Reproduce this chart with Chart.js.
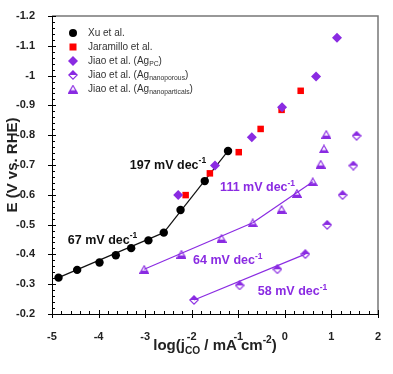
<!DOCTYPE html>
<html>
<head>
<meta charset="utf-8">
<script src="https://cdn.jsdelivr.net/npm/chart.js@4.4.1/dist/chart.umd.min.js"></script>
<style>
  html, body { margin: 0; padding: 0; background: #fff; }
  canvas { display: block; }
</style>
</head>
<body>
<canvas id="tafel" width="393" height="374"></canvas>
<script>
// data: log(jCO) and potential E (V vs RHE)
const xuX = [-4.86, -4.46, -3.98, -3.63, -3.30, -2.93, -2.60, -2.24, -1.72, -1.22];
const xuE = [-0.322, -0.348, -0.373, -0.397, -0.421, -0.447, -0.473, -0.549, -0.646, -0.747];
const jarX = [-2.13, -1.61, -0.99, -0.52, -0.07, 0.34];
const jarE = [-0.599, -0.672, -0.743, -0.821, -0.885, -0.949];
const pcX = [-2.29, -1.50, -0.71, -0.06, 0.67, 1.12];
const pcE = [-0.599, -0.698, -0.793, -0.894, -0.997, -1.127];
const porX = [-1.95, -0.97, -0.16, 0.44, 0.91, 1.24, 1.47, 1.54];
const porE = [-0.247, -0.296, -0.350, -0.401, -0.499, -0.599, -0.698, -0.798];
const parX = [-3.02, -2.22, -1.36, -0.69, -0.07, 0.26, 0.60, 0.77, 0.84, 0.89];
const parE = [-0.350, -0.401, -0.454, -0.506, -0.551, -0.605, -0.644, -0.703, -0.754, -0.803];

// Tafel fit segments (end points)
const xuFit67X = [-4.86, -2.60];
const xuFit67E = [-0.322, -0.473];
const xuFit197X = [-2.60, -1.22];
const xuFit197E = [-0.473, -0.747];
const parFit64X = [-3.02, -0.69];
const parFit64E = [-0.350, -0.506];
const parFit111X = [-0.69, 0.60];
const parFit111E = [-0.506, -0.644];
const porFit58X = [-1.95, 0.44];
const porFit58E = [-0.247, -0.401];

// slope labels: text, anchor (log j, E)
const slopeLabels = ["197 mV dec", "67 mV dec", "111 mV dec", "64 mV dec", "58 mV dec"];
const slopeLabelX = [-3.33, -4.66, -1.39, -1.97, -0.58];
const slopeLabelE = [-0.698, -0.448, -0.623, -0.378, -0.274];
const slopeLabelColor = ["#111", "#111", "#8a2be2", "#8a2be2", "#8a2be2"];

const legendNames = [
  [["Xu et al.", ""]],
  [["Jaramillo et al.", ""]],
  [["Jiao et al. (Ag", ""], ["PC", "sub"], [")", ""]],
  [["Jiao et al. (Ag", ""], ["nanoporous", "sub"], [")", ""]],
  [["Jiao et al. (Ag", ""], ["nanoparticals", "sub"], [")", ""]]
];

const purple = "#8a2be2";

function pts(xs, ys) {
  return xs.map((x, i) => ({ x: x, y: ys[i] }));
}

// half filled diamond marker
function halfDiamond() {
  const c = document.createElement("canvas");
  c.width = 10; c.height = 10;
  const g = c.getContext("2d");
  g.fillStyle = purple;
  g.beginPath();
  g.moveTo(5, 0.5); g.lineTo(9.5, 5); g.lineTo(0.5, 5); g.closePath();
  g.fill();
  g.strokeStyle = purple;
  g.lineWidth = 1.1;
  g.beginPath();
  g.moveTo(5, 0.8); g.lineTo(9.2, 5); g.lineTo(5, 9.2); g.lineTo(0.8, 5); g.closePath();
  g.stroke();
  return c;
}

// open triangle with filled base
function halfTriangle() {
  const c = document.createElement("canvas");
  c.width = 10; c.height = 9;
  const g = c.getContext("2d");
  g.fillStyle = purple;
  g.beginPath();
  g.moveTo(2.2, 5.8); g.lineTo(7.8, 5.8); g.lineTo(9.6, 8.6); g.lineTo(0.4, 8.6); g.closePath();
  g.fill();
  g.strokeStyle = purple;
  g.lineWidth = 1.1;
  g.beginPath();
  g.moveTo(5, 0.9); g.lineTo(9.3, 8.4); g.lineTo(0.7, 8.4); g.closePath();
  g.stroke();
  return c;
}

const porMarker = halfDiamond();
const parMarker = halfTriangle();

function richText(ctx, parts, x, y, size, weight, color, align) {
  const fam = '"Liberation Sans", Arial, sans-serif';
  const small = size * 0.68;
  let w = 0;
  parts.forEach(p => {
    ctx.font = weight + " " + (p[1] ? small : size) + "px " + fam;
    w += ctx.measureText(p[0]).width;
  });
  let cx = align === "center" ? x - w / 2 : x;
  ctx.fillStyle = color;
  ctx.textBaseline = "middle";
  ctx.textAlign = "left";
  parts.forEach(p => {
    let dy = 0;
    if (p[1] === "sub") dy = size * 0.32;
    if (p[1] === "sup") dy = -size * 0.38;
    ctx.font = weight + " " + (p[1] ? small : size) + "px " + fam;
    ctx.fillText(p[0], cx, y + dy);
    cx += ctx.measureText(p[0]).width;
  });
}

const decor = {
  id: "decor",
  afterDraw(chart) {
    const ctx = chart.ctx;
    const a = chart.chartArea;
    const xs = chart.scales.x, ys = chart.scales.y;
    ctx.save();

    // top and right frame
    ctx.strokeStyle = "#777";
    ctx.lineWidth = 1.5;
    ctx.beginPath();
    ctx.moveTo(a.left, a.top); ctx.lineTo(a.right, a.top); ctx.lineTo(a.right, a.bottom);
    ctx.stroke();

    // ticks
    ctx.strokeStyle = "#000";
    ctx.lineWidth = 1;
    ctx.beginPath();
    for (let i = -50; i <= 20; i += 2) {
      const px = Math.round(xs.getPixelForValue(i / 10)) + 0.5;
      if (i % 10 === 0) { ctx.moveTo(px, a.bottom - 4); ctx.lineTo(px, a.bottom + 4); }
      else { ctx.moveTo(px, a.bottom); ctx.lineTo(px, a.bottom - 3); }
    }
    for (let i = -60; i <= -10; i += 1) {
      const py = Math.round(ys.getPixelForValue(i / 50)) + 0.5;
      if (i % 5 === 0) { ctx.moveTo(a.left - 4, py); ctx.lineTo(a.left + 4, py); }
      else { ctx.moveTo(a.left, py); ctx.lineTo(a.left + 3, py); }
    }
    ctx.stroke();

    // legend
    const lx = a.left + 21, tx = a.left + 36;
    legendNames.forEach((name, i) => {
      const ly = a.top + 17 + i * 14;
      if (i === 0) {
        ctx.fillStyle = "#000";
        ctx.beginPath(); ctx.arc(lx, ly, 4, 0, Math.PI * 2); ctx.fill();
      } else if (i === 1) {
        ctx.fillStyle = "#ff0000";
        ctx.fillRect(lx - 3.5, ly - 3.5, 7, 7);
      } else if (i === 2) {
        ctx.fillStyle = purple;
        ctx.beginPath();
        ctx.moveTo(lx, ly - 5); ctx.lineTo(lx + 5, ly); ctx.lineTo(lx, ly + 5); ctx.lineTo(lx - 5, ly);
        ctx.closePath(); ctx.fill();
      } else if (i === 3) {
        ctx.drawImage(porMarker, lx - 5, ly - 5);
      } else {
        ctx.drawImage(parMarker, lx - 5, ly - 4.5);
      }
      richText(ctx, name, tx, ly, 10, "normal", "#333", "left");
    });

    // slope labels
    slopeLabels.forEach((t, i) => {
      richText(ctx, [[t, ""], ["-1", "sup"]],
        xs.getPixelForValue(slopeLabelX[i]), ys.getPixelForValue(slopeLabelE[i]),
        12.5, "bold", slopeLabelColor[i], "left");
    });

    // axis titles
    richText(ctx, [["log(j", ""], ["CO", "sub"], [" / mA cm", ""], ["-2", "sup"], [")", ""]],
      (a.left + a.right) / 2, 346, 15, "bold", "#222", "center");
    ctx.translate(13, (a.top + a.bottom) / 2);
    ctx.rotate(-Math.PI / 2);
    richText(ctx, [["E (V vs. RHE)", ""]], 0, 0, 15, "bold", "#222", "center");
    ctx.restore();
  }
};

const lineStyle = (color) => ({
  showLine: true, borderColor: color, borderWidth: 1.2, pointRadius: 0, order: 10
});

new Chart(document.getElementById("tafel").getContext("2d"), {
  type: "scatter",
  data: {
    datasets: [
      Object.assign({ data: pts(xuFit67X, xuFit67E) }, lineStyle("#111")),
      Object.assign({ data: pts(xuFit197X, xuFit197E) }, lineStyle("#111")),
      Object.assign({ data: pts(parFit64X, parFit64E) }, lineStyle(purple)),
      Object.assign({ data: pts(parFit111X, parFit111E) }, lineStyle(purple)),
      Object.assign({ data: pts(porFit58X, porFit58E) }, lineStyle(purple)),
      { label: "Xu et al.", data: pts(xuX, xuE), pointStyle: "circle", pointRadius: 4.2,
        backgroundColor: "#000", borderColor: "#000", borderWidth: 0, order: 5 },
      { label: "Jaramillo et al.", data: pts(jarX, jarE), pointStyle: "rect", pointRadius: 4.6,
        backgroundColor: "#ff0000", borderColor: "#ff0000", borderWidth: 0, order: 3 },
      { label: "Jiao et al. (Ag PC)", data: pts(pcX, pcE), pointStyle: "rectRot", pointRadius: 5,
        backgroundColor: purple, borderColor: purple, borderWidth: 0, order: 2 },
      { label: "Jiao et al. (Ag nanoporous)", data: pts(porX, porE), pointStyle: porMarker, order: 1 },
      { label: "Jiao et al. (Ag nanoparticals)", data: pts(parX, parE), pointStyle: parMarker, order: 1 }
    ]
  },
  options: {
    responsive: false,
    animation: false,
    devicePixelRatio: 1,
    layout: { padding: { top: 16, right: 15, left: 0, bottom: 0 } },
    plugins: { legend: { display: false }, tooltip: { enabled: false } },
    scales: {
      x: {
        type: "linear", min: -5, max: 2,
        grid: { display: false },
        border: { display: true, color: "#000", width: 1 },
        ticks: {
          stepSize: 1, padding: 8, color: "#222",
          font: { family: '"Liberation Sans", Arial, sans-serif', size: 11, weight: "bold" },
          callback: v => String(Math.round(v))
        },
        afterFit: s => { s.height = 60; }
      },
      y: {
        type: "linear", min: -1.2, max: -0.2, reverse: true,
        grid: { display: false },
        border: { display: true, color: "#000", width: 1 },
        ticks: {
          stepSize: 0.1, padding: 9, color: "#222",
          font: { family: '"Liberation Sans", Arial, sans-serif', size: 11, weight: "bold" },
          callback: v => String(Math.round(v * 10) / 10)
        },
        afterFit: s => { s.width = 52; }
      }
    }
  },
  plugins: [decor]
});
</script>
</body>
</html>
